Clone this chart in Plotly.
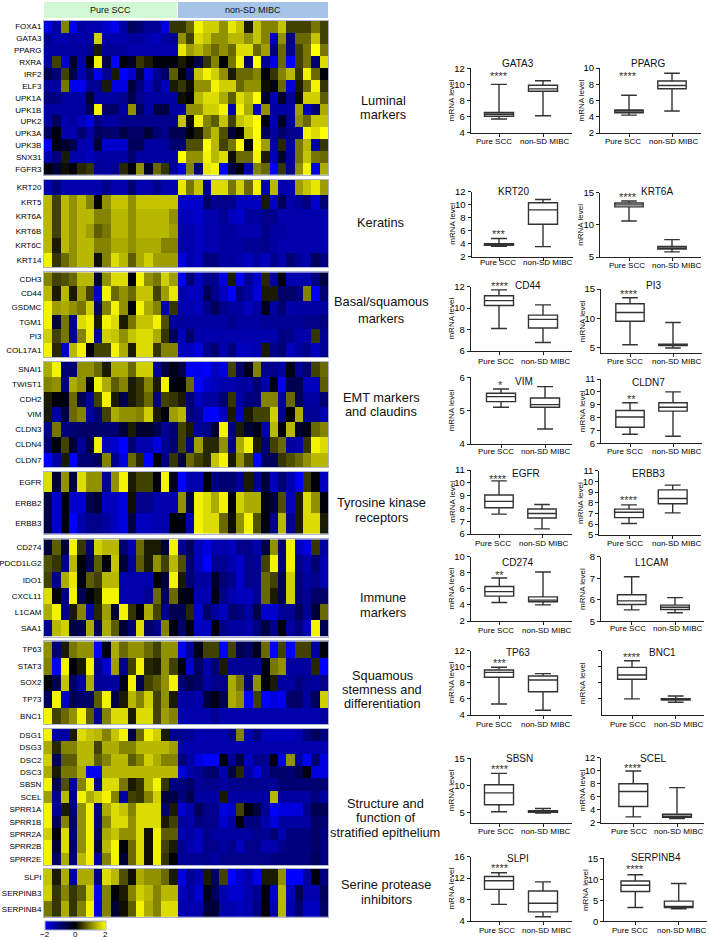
import plotly.graph_objects as go

W, H = 709, 940

# ---------- heat map values (row z-scores, 16 Pure SCC + 18 non-SD MIBC columns) ----------
FOXA1 = [-1.8,-1.4,1,-1.9,-1.4,-1.5,-1.5,-1.7,-1.9,-1.4,-.8,-1,-1.3,-1.3,-1.8,.4, .4,.8,1.9,1.6,1.6,1.1,1.8,1.5,.2,1.5,1,1,1.5,.5,.5,.5,.9,.5]
GATA3 = [-1.3,-1.5,-1.5,-1.4,-1.5,-1.4,1.6,-1.5,-1.5,-1.5,-1.4,-1.4,-1.5,-1.6,-1.4,-1.3, 1.1,.5,1.7,1.5,1.1,1.1,1.4,1.4,1.1,1.5,1,-1.6,1.1,-1.2,.8,.8,1.5,.5]
PPARG = [-1.4,-1.4,-1.4,-1.4,-1.4,-1.3,.2,-1.3,-1.3,-1.4,-1.5,-1.5,-1.5,-1.5,-1.5,-1.5, 1.8,1.2,1.4,1.1,.8,1.1,.8,1.7,1.7,.8,1.2,-1.1,.8,-1.3,.5,.9,2,.9]
RXRA = [-1.4,.5,-1.7,-.4,-1.5,0,1.9,-.6,-2,-.1,-.3,.4,.2,-.1,-.1,-.1, .2,-.1,-.6,.4,1,-.1,.9,1.9,-.9,2,-1.3,-1.8,.8,-2,.5,.9,-1,1.7]
IRF2 = [-.7,-1,.5,-.7,-1.5,-1,-1.9,-1.3,.2,-2,-1.7,-.6,-1.8,-1.3,-.9,.7, -.1,-1,1.5,1.9,1.6,1.1,.2,.8,.8,1,-.1,.4,1,1.4,.4,1.9,.8,-.1]
ELF3 = [-1.4,-1.4,.9,-1.9,-1.9,-1.3,-1.3,.2,-1.8,-1.8,-.5,-1.1,-1.6,-1.1,-1.6,.2, .4,.1,1.1,1.1,1.9,1.6,1.6,.8,1.1,1.1,.1,-.1,.8,-1.8,.2,.8,1.9,.4]
UPK1A = [-1.1,-1.1,-1.4,-1.4,-1.4,-.5,-1.4,-1.4,-1.4,-1.2,-.7,-1.2,-1.4,-1.4,-1.4,-1.4, .1,-.1,1.4,1.7,1.7,1.3,.7,1.7,1.4,2,-.4,-1.5,-.4,-1.3,.1,1.6,1.6,.7]
UPK1B = [-1.4,-1.4,-1.4,-1.4,-1.4,-.7,1.9,-.9,-.9,-1.4,1.1,-.8,-1.4,-.6,-.6,-1.4, -1.4,1.1,1.1,1.6,1.6,1.9,-1.5,1.9,1.3,-1.6,1.1,-1.4,-1.4,-1.4,1.2,-1.6,-1,1.3]
UPK2 = [-1.4,-.8,-1.5,-1.4,-1.6,-1.8,-1.1,-1.4,-1.4,-1.2,-1.2,-1.2,-1.2,-1.2,-1.2,-1.2, 1.5,.1,1.9,1,.7,1.5,.5,1.5,1.7,2,-.1,-1.5,-.4,-1.3,1.1,.8,1.5,1.5]
UPK3A = [-.8,-.1,-1.5,-1.5,-1,-1.4,-.8,-.9,-1,-.6,-.9,-.9,-.5,-1,-1.2,-.7, -.7,-.1,.2,.9,1.4,.6,-.5,0,1.5,2,-.8,-1.4,-.9,-1.2,-1.3,1.9,1.7,2]
UPK3B = [-1.9,-.2,-.4,-.7,-1.5,-1.5,-.5,-1.7,-1.7,-1.7,-.8,-.8,-1.4,-1.4,-1.4,-1, -1,.6,.6,2,1.4,.5,.9,2,-.1,2,1.2,-1.5,.3,-1.4,.9,1.4,-1.4,.4]
SNX31 = [-1.5,-1.1,.2,-1.5,-1.5,-1.6,-1.4,-1.4,-1.4,-1.4,-1,-1.4,-1.4,-1.4,-1.4,-1.4, 2,1.1,1.1,1.9,1.4,1.7,.1,.8,.8,1.9,.2,-1.5,-.5,-1.3,.9,1.5,.9,.8]
FGFR3 = [-.1,-.5,.1,-.1,.3,.4,-1.3,-1.4,-1.3,.3,-.1,1.1,-.4,.8,.4,-1.3, -1.8,1,-1,1.8,1.9,-2,-.6,-.1,-1.5,1,.8,-2,.4,-1.3,1.1,1.9,-1.8,1.3]

KRT20 = [-1.5,-1.1,-1.5,-1.5,-1.5,-1.5,-1.5,-1.2,-1.5,-1.5,-1,-1.5,-1.5,-1.2,-1.5,-1.5, 1.8,.9,1.5,-1.3,1.7,1.7,.9,1.6,.8,1.9,-1.5,1.4,-1.5,-1.5,1.2,1.5,1.8,1.2]
KRT5 = [1.4,.5,1.4,1.1,1.4,1,-.1,1.1,1.5,1.5,1.1,1.5,1.5,1.5,1.5,1.5, -1.7,-1.7,-1.7,-.9,-1.2,-1.2,-1.2,-1.6,-1.6,-1.6,.2,-1.6,-.8,-1.5,-1.3,-1.1,-1.7,-1]
KRT6A = [1.4,.5,1.4,1.1,1.4,1.4,1,1,1.4,1.4,1.1,1.4,1.4,1.4,1.4,1.1, -1.6,-1.6,-1.7,-1.5,-1.5,-1.3,-1.6,-1.7,-1.4,-1.4,-1.2,-1.2,-1.5,-1.5,-1.5,-1.5,-1.5,-1.5]
KRT6B = [1.4,.5,1.4,1.1,1.4,1.2,.7,.9,1.4,1.4,1.1,1.4,1.4,1.4,1.4,1.2, -1.5,-1.5,-1.6,-1.5,-1.5,-1.4,-1.4,-1.5,-1.5,-1.5,-1.2,-1.4,-1.4,-1.5,-1.5,-1.5,-1.5,-1.5]
KRT6C = [1.4,.2,1.4,1.1,1.4,1.4,1,1,1.3,1.3,1.1,1.3,1.3,1.3,1,1, -1.5,-1.5,-1.6,-1.5,-1.5,-1.4,-1.4,-1.4,-1.3,-1.3,-1.2,-1.4,-1.5,-1.5,-1.5,-1.5,-1.5,-1.5]
KRT14 = [1.9,.4,.8,1.1,1.4,1.4,.1,1,1.7,1.4,.7,1.3,1.6,1.2,1.2,1.2, -1.8,-1.5,-1.6,-1.1,-1.1,-1.4,-1.4,-1.5,-1.6,-1.4,-1.6,-1.2,-1.5,-1,-1.3,-1.5,-.8,-1.1]

CDH3 = [1,.5,.6,.8,1.4,1.4,-.5,1.1,1.7,1.7,-.1,1.9,1.1,.9,1.6,1.2, -1.9,-1,-1.6,-1.2,-1.2,-1.8,.2,-1.9,-1.3,-1.7,.3,-1.4,-.1,-1.5,-1.5,-1.5,-1.1,-.6]
CD44 = [1.4,.2,1.4,.2,1.2,.5,-1.7,1.9,.8,1.1,.8,1.5,1.5,.5,1.2,1.8, -1.5,-1.6,-1.6,-.7,-1.2,-1.6,-2,-1.1,-1.4,-1.8,.2,.2,-.9,-.9,-1.1,1,-1.9,-1]
GSDMC = [1.9,1.2,1.3,1.1,.9,1.6,-.9,1,1.9,1.1,-.1,1.9,1.3,1,-1.5,.4, -1.5,-1.5,-1.6,-1.2,-.8,-1.2,-1.4,-1.4,-1.6,-1.4,-.2,-1.4,-1,-1.5,-1.4,-1.4,-1.4,-1.4]
TGM1 = [1.9,-.5,.9,-1.2,1.7,1.9,.2,1.9,1.7,.2,.9,1.5,1.5,1.9,.6,-1.3, -1.4,-1.4,-1.4,-1.4,-1.4,-1.4,-1.2,-1.4,-1.4,-1.4,-1.3,-1.3,-1.3,-1.3,-1.3,-1.2,-1.2,-1.1]
PI3 = [1.6,.5,.9,-1.3,1,1.9,-1.4,1.6,1.5,1.1,1.5,1.7,1.7,1.3,.4,-.8, -1.6,-.9,-1.5,-1.5,-1.5,-1.5,-1.5,-1.5,-1.5,-1.5,-1.5,-1.5,-1.1,-1.2,-1.5,-1.5,.4,-1.3]
COL17A1 = [1.9,.3,-1.7,1.4,1.9,-.1,.5,.5,1.9,1.3,.2,1.7,1.7,.4,1,1, -1.6,-1.6,-1.8,-1.2,-1,-1.5,-1.1,-1.6,-1.6,-1.5,.2,-1.2,-1,-1.6,-1.4,-1.2,-1.6,-1.3]

SNAI1 = [1.3,1.9,-1,-1,1.1,1.1,.8,.2,1.3,1.3,.8,1.6,1.6,-1.4,-.6,-.2, -.6,-1.9,-1.9,-2,-1.6,-1.8,.5,-.9,-.2,1,-1.2,-1.2,-1.4,-.2,-1.3,-1,.5,.8]
TWIST1 = [1,1.1,-1.1,1.3,1.1,-.1,1.9,1.3,.7,1,.2,.4,1,.2,1.9,-.1, -.1,.8,-2,-1.7,-1.6,-1.5,-1.5,-1.4,-1.4,-1,-1.5,-.2,-1.9,-.7,-.7,-1.6,-1.6,.7]
CDH2 = [.2,-.1,-.1,.8,-.8,-1.4,.5,1.9,.2,-.7,.2,.4,.8,-1,.5,.4, .2,-1,-1.6,-1.4,-1.4,-1,.4,-1.4,-1.1,-1.1,1,1,-1.4,.8,-.8,-1.4,-1.4,-1]
VIM = [.2,-1.4,-.6,.8,1,-1.4,-1,.5,1.3,1.1,1.1,1,1.6,.2,-.1,1.2, 1.4,-1.1,-1.3,-2,-2,-1.6,.2,-1.6,.2,.5,.5,1.6,-1.2,-.1,1.3,-1.3,-1.3,-1.5]
CLDN3 = [-1.2,.9,-1.1,-1,-.9,-.9,-.9,-1,-1,-.5,.2,-.4,-.4,-.7,-1.3,-1, .5,.2,-1.3,-1.2,-.5,1.9,-1.1,.2,-.5,-.2,-1.5,1.4,-.1,1.4,-.4,-.2,.8,1]
CLDN4 = [-1,-.1,.5,-.5,-1.3,-.6,1.9,-1.6,-1.7,-2,-1,-1.5,-1.5,-1.8,-1.3,-1, .5,-1.1,1.2,.3,.3,1.1,-1.2,1.3,1.9,.2,-1,.5,.8,-1.4,-1.5,.4,1.9,1.7]
CLDN7 = [-2,-1.4,.2,-2,-1,-1,-.8,1,-1.2,-1.8,.8,.3,-2,-.1,-1.1,.4, -.6,.8,.5,.3,1.5,1.9,.2,1.1,.5,-2,-.8,-.8,.4,.6,.8,1.1,1.4,1.4]

EGFR = [1.7,-.5,1.1,-.6,1.7,1.1,1.1,-1.2,1.1,1.9,.2,.5,.5,-.1,1.9,-.3, -2,-1.5,-1.5,-.1,-1.2,-1,-1,-1.3,.2,-1.3,-.6,-1.6,-1,-1.5,-1.9,.4,-.1,-1.6]
ERBB2 = [-.6,-1.7,-.1,-1.7,-1.7,-.7,-.4,-1.6,-1.6,-1.8,.1,-1.2,-1.2,-1.5,-1.5,-1.5, 1.1,-.6,1.9,1.7,1.3,1.9,-.1,1.6,1.3,1.3,-.2,-.5,.6,-1.6,.2,1.7,1.1,-.1]
ERBB3 = [-.6,-1.7,-.1,-2,-1.5,-1.2,-1.2,-1.4,-1.6,-1.8,-.6,-1.6,-1.6,-1.5,-1.5,-.1, -.1,-1.5,1.9,1.7,1.7,.8,.1,1.1,1.9,.6,-.2,-1.2,1.4,-1.3,.2,1.7,1.7,.2]

CD274 = [-.5,.7,-.5,1.9,.4,-1,1.6,1.4,1.4,-1,-1.5,.8,.2,.2,-.5,1.9, -1.2,-.8,-1.6,-1.8,-1.5,-1.5,-1.6,-1.2,-1.2,-1.5,-.6,1.1,-1,1.9,-1.6,-1.8,.4,-1.4]
PDCD1LG2 = [.6,.4,-1.2,1.4,-.1,-.8,.7,-.1,1.5,-.5,-1.3,.7,.2,1.1,.5,1.4, .6,-1,-1.6,-2,-1.2,-1.3,-1.5,-1.7,-1.2,-1.3,.5,1.9,-1,1.9,-1.2,-1.5,-1,-1.5]
IDO1 = [.5,-1.2,1.3,1.8,-.1,.7,.5,1.4,1.4,-1.5,-1.5,-1.5,-1.5,-.1,-.5,1.9, .2,-1,-1.4,-1.4,-.3,-1,-1.2,-1.7,-1.2,-1.3,.8,.5,-.7,1.6,-1.1,-1.4,-1.2,-1.5]
CXCL11 = [1.7,-.1,-1.1,1.9,-.7,-.1,.2,1.9,1.9,-1.5,-1.5,-1.5,-1.3,.8,-.8,.8, -.2,-.2,-1.5,-1.5,-.2,-1.2,-1.5,-1.6,-1.6,-1.3,.8,.2,-.7,1.6,-1.1,-1.3,-.9,-.9]
L1CAM = [1.3,1.9,-1.2,.2,1,-1.5,.3,1.2,-.4,1.9,.4,-.1,1.3,.5,-1.2,-.7, -.7,.3,-1.7,-.9,-1.4,-1.6,-1,-1.1,-1.4,-.7,-1.7,-1.7,-1.3,-1.3,-.8,-1.3,-.5,.8]
SAA1 = [-1.3,1.4,1.6,-.6,-.7,1.3,-.8,1.3,.7,-.5,-1,1.7,-.9,-1.2,1,-.1, -1,-.1,-1.6,-1.6,-.1,-1.2,-1.4,-1.4,-1.5,-1.1,-.6,-1.2,-.1,-1.4,-1.1,-1.6,1.9,-.7]

TP63 = [1.1,-1,.2,.9,1.1,1.1,-2,-.2,1.3,.8,1.1,1.1,.8,.5,1.1,1.1, -1.9,-1.3,-.2,.5,.5,-2,.5,-.7,-.9,-.2,.8,-2,.5,-2,.5,.5,-1.4,-.1]
STAT3 = [1,-1.9,1.9,-.1,.2,1.9,-1.2,-1.7,1.2,-1.2,.5,1.9,.3,.2,1.1,.5, -.1,-1.7,-.8,-1.5,-1,.2,-1.3,-1.3,-1.3,-1.3,-.1,.9,1.1,-1.4,-1.4,-1.4,.3,-2]
SOX2 = [-.1,-.7,1.5,-.9,-1.4,1.3,-1.3,-1.4,-1.4,-.2,1.9,-.7,.5,.7,1.1,1.9, -1,-.7,-.9,-1.4,-1.2,-1.2,1.3,.9,-1,1.1,-.1,.2,-1.4,-1.4,-1.1,-1.3,-1.4,-1.2]
TP73 = [-.8,1.9,-1.6,-.7,-.9,-.9,.7,1.9,-.6,.2,1.4,1,1.6,.5,1.1,.2, -1.4,-1.4,-1.5,-.5,-.2,-.7,1.3,1.1,-2,.5,-2,-1.8,-1.9,-.9,-.9,-1.4,-.8,1.6]
BNC1 = [1.9,.5,.8,1.1,1.9,.7,-1.3,1,1.7,1.7,.2,1.7,1.7,.5,1.2,1, -1.5,-1.5,-1.5,-1.5,-1.3,-1.5,-1.5,-1.5,-1.5,-1.5,-1.5,-1.5,-1.5,-1.5,-1.5,-1.5,-1.5,-1.4]

DSG1 = [1.9,-1.4,-1.4,.2,1.7,1.5,1.4,1,1.5,1.9,-.6,.8,1.9,1.6,.2,-1.2, -1.3,-1.3,-1.5,-1.5,-1.5,-1.5,-1.2,1,-1.5,-1.1,-1.6,-1.6,-1.6,-1.6,-1.5,-1.1,-.8,-1.1]
DSG3 = [1.3,.3,1,1,1.4,1.4,.5,1.3,1.3,1,1,1.4,1.4,1.4,1.4,1.2, -1.5,-1.5,-1.5,-1.5,-1.5,-1.5,-1.5,-1.5,-1.5,-1.5,-1.5,-1.5,-1.5,-1.5,-1.5,-1.5,-1.5,-1.5]
DSC2 = [1.6,-.8,.7,.7,1.4,1.4,.7,1,1.4,1.4,.7,1,1.6,1.3,1,1, -1.1,-1.4,-1.8,-2,-2,-.1,-1.3,-.6,-1.6,-1.2,-1.2,-.1,-1.8,1.1,-1.4,-2,-1,-1.8]
DSC3 = [1.3,.2,.9,.9,1.3,-1.9,-1.9,1.4,1.4,1.4,1.4,1.4,1.4,1.4,1.4,1.4, -1.8,-1.5,-1.3,-1,-.9,-1.5,-.6,.3,-1.4,-1.8,-1.3,-.9,-.9,-1,-.7,-.1,-1.8,-1.8]
SBSN = [1.9,-.7,.6,-1.4,1,1.9,-1.2,1.7,1.7,.9,.2,.4,1.4,1.9,.4,-1.1, -1.1,-.9,-1.3,-1.2,-1.2,-1.4,-1.2,-1.2,-1.2,-1.2,-1.3,-1.3,-1,-1,-1,-1,-1,-1]
SCEL = [1.2,-1.2,1.4,-1.2,1.9,1.3,1.6,1.9,1,-1.4,.5,.4,1,1.6,-.6,-.6, -1.1,-.7,-1.4,-1.4,-1.4,.2,-1.4,-1.4,-1.4,-1.4,-1.4,1.4,-1.4,-1.4,-1.4,-1.4,-1.1,-1.4]
SPRR1A = [1.9,-1.3,.2,-1.1,1.1,1.9,-1.1,1.3,1.7,1.5,1,1.7,1.7,1.7,-1,.2, -1.7,-1.5,-.8,-1.2,-1.2,-1.8,-1.7,.5,-.1,-.6,-1.3,-2,-1.8,-1.8,-1.8,-1.2,-.7,-.7]
SPRR1B = [1.9,-.8,1,-.9,1.1,1.9,-1.1,1,1.7,1.7,1.1,1.7,1.7,1.7,.2,.5, -1.3,-1.5,-1.1,-1.2,-1.2,-1.7,-1.4,-.1,-1.1,-1.1,-1.5,-1.8,-1.4,-1.4,-1.4,-1.4,-.9,-1]
SPRR2A = [1.6,-.1,1.7,-1.1,1.1,1.9,-.9,1.3,1.5,1.1,1.1,1.7,.1,1.9,.7,.7, -1.5,-1.4,-1.6,-1.2,-1.4,-1.4,-1.4,-1.4,-1.4,-1.2,-1.3,-1,-1.5,-1.1,-1.1,-1.1,-.9,-1.1]
SPRR2B = [1.9,-.5,1.7,-1,1.1,1.9,-.6,1.4,1.9,-.1,.8,1.7,.1,1.9,.5,.2, -1.2,-1.5,-1.6,-1.2,-1.2,-1.4,-1.2,-1.6,-1.2,-1.2,-1.5,-1.5,-1.2,-1.1,-1.1,-1.1,-.9,-1.1]
SPRR2E = [1.9,-.9,1.3,-1.1,1.4,1.9,-1.4,1,1.9,-.5,.8,1.7,.1,1.9,.4,-.1, -1.3,-1.3,-1.3,-1.2,-1.4,-1.2,-1.2,-1.2,-1.2,-1.2,-1.2,-1.1,-1.1,-1.1,-1.1,-1.1,-.8,-1.1]

SLPI = [1.5,.2,1.3,-1.4,1.3,1.3,-1.1,1.7,1.4,.6,.1,1.3,1.1,1.1,.8,.2, -1.8,-1.3,-1.5,.2,-.9,.5,-2,-1.7,-1.5,-1.9,.2,.2,1.1,-2,-2,-1.4,-.1,-1.1]
SERPINB3 = [1.6,.4,1,.4,.7,1.6,-1.9,1,-.1,.2,1,1.6,1.4,1,1.4,1.4, -1.6,-1.4,-1.7,-.2,-.8,-1.5,-1.7,-1.7,-1.5,-1.2,-.1,-1.7,1.4,-1.6,-.7,-1.5,-1.5,-.8]
SERPINB4 = [.9,.4,1.3,.4,1,1.9,-1.8,1,-.5,.1,.7,1.9,1.3,1,1.7,1.7, -1.5,-1.5,-1.5,-.5,-.5,-1.5,-1.5,-1.6,-1.5,-1.1,-.1,-1.5,1.4,-1.5,-1,-1.6,-1.6,-.9]

GENE_BLOCKS = [
    ["FOXA1","GATA3","PPARG","RXRA","IRF2","ELF3","UPK1A","UPK1B","UPK2","UPK3A","UPK3B","SNX31","FGFR3"],
    ["KRT20","KRT5","KRT6A","KRT6B","KRT6C","KRT14"],
    ["CDH3","CD44","GSDMC","TGM1","PI3","COL17A1"],
    ["SNAI1","TWIST1","CDH2","VIM","CLDN3","CLDN4","CLDN7"],
    ["EGFR","ERBB2","ERBB3"],
    ["CD274","PDCD1LG2","IDO1","CXCL11","L1CAM","SAA1"],
    ["TP63","STAT3","SOX2","TP73","BNC1"],
    ["DSG1","DSG3","DSC2","DSC3","SBSN","SCEL","SPRR1A","SPRR1B","SPRR2A","SPRR2B","SPRR2E"],
    ["SLPI","SERPINB3","SERPINB4"],
]

GROUP_NAMES = ["Pure SCC", "non-SD MIBC"]
COLORBAR_TICKS = [-2, 0, 2]
COLORBAR_TEXT = ["\u22122", "0", "2"]

# ---------- box statistics: [low, q1, median, q3, high] ----------
BOX_GENES = ["GATA3","PPARG","KRT20","KRT6A","CD44","PI3","VIM","CLDN7","EGFR","ERBB3","CD274","L1CAM","TP63","BNC1","SBSN","SCEL","SLPI","SERPINB4"]
BOX_SCC = [[5.7,6.05,6.3,6.5,10],[4.2,4.5,4.7,4.85,6.65],[3.6,3.75,3.85,4,4.8],[10.6,12.8,13.1,13.4,13.7],
           [8.1,10.25,10.7,11.15,11.7],[5.5,9.5,11,12.5,13.5],[5.1,5.27,5.42,5.52,5.65],[6.7,7.25,8.05,8.55,9.15],
           [7.55,8.05,8.55,9.05,10.15],[6.05,6.6,7.1,7.4,7.8],[4.3,5.1,5.65,6.3,7.35],[5.53,5.78,5.95,6.23,7.07],
           [5.37,8.7,9.3,9.6,9.95],[6,8.44,8.98,9.93,10.75],[5.1,6.4,8.6,10.1,12.2],[2.9,4.5,6.8,8,9.95],
           [7.1,9.9,11.5,12.3,13],[3.3,7.1,8.6,9.6,11.1]]
BOX_MIBC = [[6.1,9.15,9.45,9.9,10.45],[4.7,7.45,7.85,8.4,9.35],[3.55,7,9.2,10.3,10.8],[5.8,6.25,6.4,6.65,7.7],
            [6.8,8.15,8.95,9.35,10.3],[4.95,5.35,5.45,5.6,9.3],[4.45,5.1,5.18,5.38,5.72],[6.55,8.5,8.8,9.15,10],
            [6.4,7.25,7.6,7.95,8.3],[7.05,7.9,8.4,9.2,9.65],[4,4.4,4.6,5,8.1],[5.4,5.55,5.65,5.75,6.1],
            [4.6,6.9,8.35,8.85,9.15],[5.58,5.87,5.95,6.03,6.36],[4.85,5,5.15,5.3,5.7],[2.65,2.85,3,3.3,7.4],
            [4.8,5.7,7.3,9.6,11.3],[3,3.3,3.5,4.8,9]]
STARS = ["****","****","***","****","****","****","*","**","****","****","**","","***","****","****","****","****","****"]
Y_RANGES = [[4,12],[2,10],[2,12],[5,15],[6,12],[4.05,15],[4,6],[6,11],[6,11],[5,11],[2,10],[5,8],[4,12],[4,12],[3.07,15],[2,12],[4,16],[0,15]]
Y_TICKS = [[4,6,8,10,12],[2,4,6,8,10],[2,4,6,8,10,12],[5,10,15],[6,8,10,12],[5,10,15],[4,5,6],[6,7,8,9,10,11],
           [6,7,8,9,10,11],[5,6,7,8,9,10,11],[2,4,6,8,10],[5,6,7,8],[4,6,8,10,12],[6,8,10,12],[5,10,15],[2,4,6,8,10,12],
           [4,8,12,16],[0,5,10,15]]

# ---------- layout (pixels of the 709x940 page) ----------
HM_LEFT, HM_RIGHT = 44, 328
HM_BANDS = [(20.7,175),(180,267),(272.3,357),(361.7,467.3),(471.7,533.7),(539.3,636.7),(641.3,724),(729,865),(869,916.7)]
# left, right, top, bottom, centre1, centre2, title x, title y, stars x, stars y
PANELS = [
 (470.7,572,68.3,132.7,499,543,518,64,499,74),(600,701,68,133,629,672,648,64,628,74),
 (471.5,573,191.7,256.7,499,543,513,192,499,232),(600,701,192.7,257,629,672,657,192,628,195),
 (470.7,572,286.7,351,499,543,528,286,500,284),(601,702,289,353.3,630,673,653,285,629,292),
 (470.7,572,377.3,444,501,545,524,381,500,383),(601,702,379,443.3,630,673,648,382,631,397),
 (470.7,572,470,534,499,542,526,473,498,477),(599.3,701,470.7,534.7,629,672.7,648,473,629,498),
 (470.7,572,556.7,621,499.3,543,518,562,499,573),(601,704,556.7,621.3,631.7,675,651,562,0,0),
 (470.7,572,650.7,715,499,543,518,652,500,661),(602.3,704,650.7,715,632,675.7,662,652,632,655),
 (470.7,572,758.3,822.7,499,543,519,758,500,767),(601.3,704,757.7,822.7,633.3,677,653,758,633,766),
 (470.7,572,856.7,921,499,543,518,858,500,866),(604.3,707,858.3,921.3,635.3,678.7,656,857,635,867),
]
# group-name text: first x, second x, y
GROUP_TEXT = [
 (493.8,545.2,141.7),(623.3,674.2,141.7),(497.7,548.3,263),(626.7,677,265),(495.5,546,361.7),(625,676.7,361.7),
 (495.5,546,451.7),(625,676.5,452),(493,544,543.3),(625,676.7,543.3),(495.5,547.3,630),(627.7,678,628.7),
 (494.2,546,724),(627.5,678.7,724),(495.5,546,831),(628.8,679,831),(496.5,547.3,930),(630.3,682,930),
]
# each text line: text, centre x, centre y
LABELS = [
 ("Luminal",383,100),("markers",383,114),("Keratins",380,223),("Basal/squamous",381,302),("markers",381,318),
 ("EMT markers",381,397),("and claudins",381,411),("Tyrosine kinase",381,502),("receptors",381,517),
 ("Immune",383,597),("markers",383,612),("Squamous",382,675),("stemness and",382,689),("differentiation",382,703),
 ("Structure and",385,803),("function of",385,817),("stratified epithelium",385,832),
 ("Serine protease",386,884),("inhibitors",386,899),
]
CB_X = [45, 75, 105]
FONT = "Liberation Sans, Arial, sans-serif"
def fx(p): return p / W
def fy(p): return 1 - p / H

fig = go.Figure()
layout_axes = {}
annotations = []
shapes = []
ax = 1

def axis_key(prefix, i):
    return prefix + ("" if i == 1 else str(i))

for genes, (top, bottom) in zip(GENE_BLOCKS, HM_BANDS):
    rows = [globals()[g] for g in genes]
    for g, r in zip(genes, rows):
        assert len(r) == 34, g
    fig.add_trace(go.Heatmap(z=rows, coloraxis="coloraxis", xaxis=axis_key("x", ax), yaxis=axis_key("y", ax),
                             hoverinfo="skip"))
    layout_axes[axis_key("xaxis", ax)] = dict(domain=[fx(HM_LEFT), fx(HM_RIGHT)], range=[-.5, 33.5], showticklabels=False,
                                              ticks="", showgrid=False, zeroline=False, showline=True, mirror=True,
                                              linecolor="#aab4d2", linewidth=1, anchor=axis_key("y", ax))
    layout_axes[axis_key("yaxis", ax)] = dict(domain=[fy(bottom), fy(top)], range=[len(genes) - .5, -.5],
                                              tickmode="array", tickvals=list(range(len(genes))), ticktext=genes,
                                              tickfont=dict(family=FONT, size=8, color="#000"), ticks="", showgrid=False,
                                              zeroline=False, showline=True, mirror=True, linecolor="#aab4d2", linewidth=1,
                                              anchor=axis_key("x", ax))
    ax += 1

for i, gene in enumerate(BOX_GENES):
    L, R, T, B, c1, c2, tx, ty, sx, sy = PANELS[i]
    scc, mibc = BOX_SCC[i], BOX_MIBC[i]
    fig.add_trace(go.Box(x=[0, 1], lowerfence=[scc[0], mibc[0]], q1=[scc[1], mibc[1]], median=[scc[2], mibc[2]],
                         q3=[scc[3], mibc[3]], upperfence=[scc[4], mibc[4]], width=.66, whiskerwidth=.55,
                         fillcolor="rgba(0,0,0,0)", line=dict(color="#333", width=1.4), boxpoints=False,
                         hoverinfo="skip", xaxis=axis_key("x", ax), yaxis=axis_key("y", ax)))
    unit = c2 - c1
    layout_axes[axis_key("xaxis", ax)] = dict(domain=[fx(L), fx(R)], range=[-(c1 - L) / unit, (R - c1) / unit],
                                              tickmode="array", tickvals=[0, 1], showticklabels=False, ticks="outside",
                                              ticklen=3, tickwidth=1, tickcolor="#222", showline=True,
                                              linecolor="#222", linewidth=1, showgrid=False, zeroline=False,
                                              anchor=axis_key("y", ax))
    no_labels = gene == "BNC1"
    layout_axes[axis_key("yaxis", ax)] = dict(domain=[fy(B), fy(T)], range=Y_RANGES[i], tickmode="array",
                                              tickvals=Y_TICKS[i], ticks="outside", ticklen=3, tickwidth=1, tickcolor="#222",
                                              showticklabels=not no_labels, showline=True, linecolor="#222", linewidth=1,
                                              showgrid=False, zeroline=False,
                                              tickfont=dict(family=FONT, size=9.5, color="#000"), anchor=axis_key("x", ax))
    ax += 1
    annotations.append(dict(text=gene, x=fx(tx), y=fy(ty), xanchor="center", yanchor="middle",
                            font=dict(family=FONT, size=10, color="#111")))
    annotations.append(dict(text="mRNA level", x=fx(L - 19), y=fy((T + B) / 2), textangle=-90, xanchor="center",
                            yanchor="middle", font=dict(family=FONT, size=8, color="#111")))
    gx1, gx2, gy = GROUP_TEXT[i]
    for name, gx in zip(GROUP_NAMES, (gx1, gx2)):
        annotations.append(dict(text=name, x=fx(gx), y=fy(gy), xanchor="center", yanchor="middle",
                                font=dict(family=FONT, size=8, color="#000")))
    if STARS[i]:
        annotations.append(dict(text=STARS[i], x=fx(sx), y=fy(sy + 2), xanchor="center", yanchor="middle",
                                font=dict(family=FONT, size=11, color="#333")))

for text, x, y in LABELS:
    annotations.append(dict(text=text, x=fx(x), y=fy(y), xanchor="center", yanchor="middle", align="center",
                            font=dict(family=FONT, size=12.8, color="#111")))

for name, x0, x1, col in [(GROUP_NAMES[0], 44, 177, "#d2f7d4"), (GROUP_NAMES[1], 178, 328, "#a6c4e8")]:
    shapes.append(dict(type="rect", xref="paper", yref="paper", x0=fx(x0), x1=fx(x1), y0=fy(18), y1=fy(2),
                       fillcolor=col, line=dict(width=0)))
    annotations.append(dict(text=name, x=fx((x0 + x1) / 2), y=fy(10.5), xanchor="center", yanchor="middle",
                            font=dict(family=FONT, size=9, color="#111")))

for text, x in zip(COLORBAR_TEXT, CB_X):
    annotations.append(dict(text=text, x=fx(x), y=fy(934.5), xanchor="center", yanchor="middle",
                            font=dict(family=FONT, size=8, color="#000")))

for a in annotations:
    a.update(xref="paper", yref="paper", showarrow=False)

fig.update_layout(width=W, height=H, margin=dict(l=0, r=0, t=0, b=0, autoexpand=False), paper_bgcolor="white", plot_bgcolor="white",
                  showlegend=False, annotations=annotations, shapes=shapes,
                  coloraxis=dict(cmin=-2, cmax=2,
                                 colorscale=[[0, "#0000ff"], [.125, "#0000ac"], [.5, "#000000"], [.85, "#b8b800"], [1, "#ffff00"]],
                                 colorbar=dict(orientation="h", lenmode="pixels", len=61, thicknessmode="pixels", thickness=9,
                                               x=fx(45), xanchor="left", y=fy(921), yanchor="top", xpad=0, ypad=0,
                                               tickmode="array", tickvals=COLORBAR_TICKS, showticklabels=False,
                                               ticks="", outlinecolor="#aab4d2", outlinewidth=1)),
                  **layout_axes)
fig.write_html("out.html", config=dict(displayModeBar=False),
               post_script="document.body.style.margin='0';document.body.style.overflow='hidden';")
